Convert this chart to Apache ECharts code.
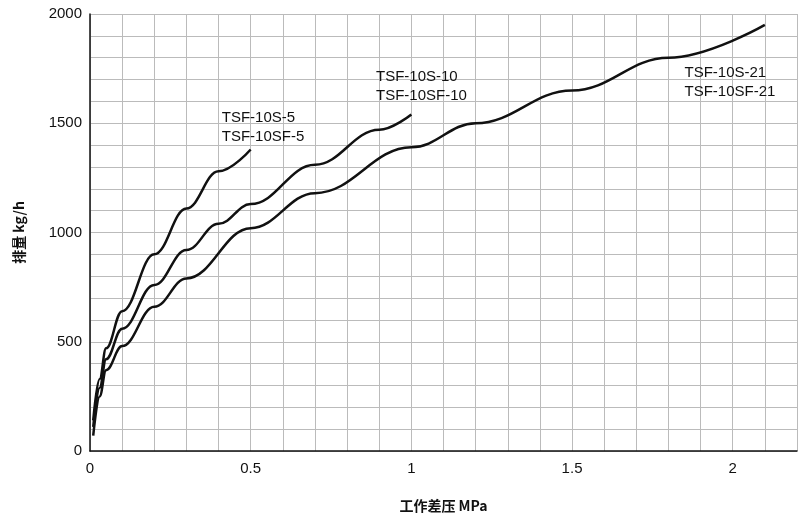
<!DOCTYPE html><html><head><meta charset="utf-8"><script src="https://cdn.jsdelivr.net/npm/echarts@6/dist/echarts.min.js"></script></head><body style="margin:0"><div id="c" style="width:800px;height:519px"></div><script>
const c5=[[0.01,140],[0.03,330],[0.05,470],[0.1,640],[0.2,900],[0.3,1110],[0.4,1280],[0.5,1380]];
const c10=[[0.01,110],[0.03,290],[0.05,420],[0.1,560],[0.2,760],[0.3,920],[0.4,1040],[0.5,1130],[0.7,1310],[0.9,1470],[1.0,1540]];
const c21=[[0.01,70],[0.03,250],[0.05,370],[0.1,480],[0.2,660],[0.3,790],[0.5,1020],[0.7,1180],[1.0,1390],[1.2,1500],[1.5,1650],[1.8,1800],[2.1,1950]];
const labels=[{t:'TSF-10S-5\nTSF-10SF-5',c:[0.41,1570]},{t:'TSF-10S-10\nTSF-10SF-10',c:[0.89,1757]},{t:'TSF-10S-21\nTSF-10SF-21',c:[1.85,1775]}];
const ch=echarts.init(document.getElementById('c'));
const ser=(d,i)=>({type:'line',data:d,smooth:0.4,smoothMonotone:'x',symbol:'none',lineStyle:{color:'#111',width:2.5},
 markPoint:{symbol:'circle',symbolSize:0,data:[{coord:labels[i].c,label:{show:true,formatter:labels[i].t,position:'right',distance:0,align:'left',verticalAlign:'top',color:'#111',fontSize:15,lineHeight:19,fontFamily:'Liberation Sans'}}]}});
ch.setOption({animation:false,grid:{left:90,right:1,top:14,bottom:68},
xAxis:{type:'value',min:0,max:2.2,interval:0.1,name:'工作差压 MPa',nameLocation:'middle',nameGap:48,nameTextStyle:{fontWeight:'bold',fontSize:14,color:'#111',fontFamily:'Noto Sans CJK SC'},
 axisLine:{lineStyle:{color:'#111',width:1.5}},axisTick:{show:false},splitLine:{lineStyle:{color:'#bbb'}},
 axisLabel:{fontSize:15,color:'#111',fontFamily:'Liberation Sans',margin:10,formatter:v=>{const r=Math.round(v*10);return r%5===0&&r<=20?String(r/10):'';}}},
yAxis:{type:'value',min:0,max:2000,interval:100,name:'排量 kg/h',nameLocation:'middle',nameGap:64,nameTextStyle:{fontWeight:'bold',fontSize:14,color:'#111',fontFamily:'Noto Sans CJK SC'},
 axisLine:{show:true,lineStyle:{color:'#111',width:1.5}},axisTick:{show:false},splitLine:{lineStyle:{color:'#bbb'}},
 axisLabel:{fontSize:15,color:'#111',fontFamily:'Liberation Sans',formatter:v=>v%500===0?String(v):''}},
series:[ser(c5,0),ser(c10,1),ser(c21,2)]});
</script></body></html>
